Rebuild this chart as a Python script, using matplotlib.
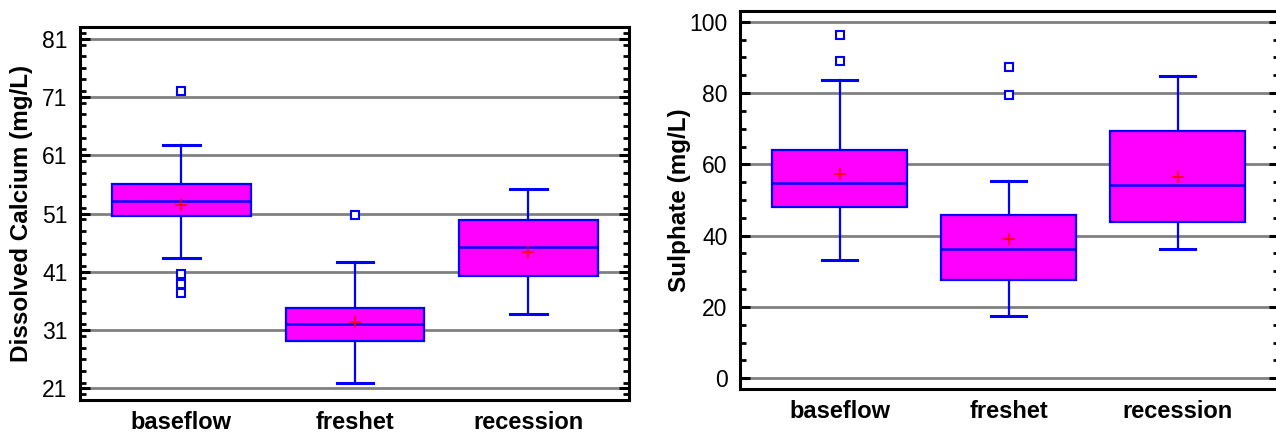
import matplotlib.pyplot as plt
from matplotlib.ticker import MultipleLocator

plt.rcParams['font.family'] = ['Liberation Sans', 'DejaVu Sans']

seasons = ['baseflow', 'freshet', 'recession']

# dissolved calcium (mg/L): quartiles, whiskers, means and outside points
ca_q1 = [50.6, 29.1, 40.3]
ca_med = [53.1, 32.0, 45.2]
ca_q3 = [56.0, 34.8, 49.9]
ca_lo = [43.4, 21.9, 33.8]
ca_hi = [62.7, 42.7, 55.2]
ca_mean = [52.5, 32.4, 44.4]
ca_out = [[72.1, 40.6, 38.9, 37.3], [50.7], []]

# sulphate (mg/L)
so4_q1 = [48.1, 27.7, 43.9]
so4_med = [54.8, 36.2, 54.3]
so4_q3 = [63.9, 45.8, 69.3]
so4_lo = [33.1, 17.5, 36.2]
so4_hi = [83.7, 55.4, 84.9]
so4_mean = [57.2, 39.2, 56.5]
so4_out = [[96.3, 89.1], [87.4, 79.4], []]


def box_stats(q1, med, q3, lo, hi, mean, out):
    stats = []
    for i in range(len(seasons)):
        stats.append({'label': seasons[i], 'q1': q1[i], 'med': med[i], 'q3': q3[i],
                      'whislo': lo[i], 'whishi': hi[i], 'mean': mean[i],
                      'fliers': out[i]})
    return stats


def draw_panel(ax, stats, ylabel, ylim, yticks, minor, xlim, label_x):
    ax.bxp(stats, positions=[1, 2, 3], widths=0.8, patch_artist=True,
           showmeans=True, capwidths=0.21,
           boxprops=dict(facecolor='#ff00ff', edgecolor='#0000ff', linewidth=1.6),
           medianprops=dict(color='#0000ff', linewidth=1.8),
           whiskerprops=dict(color='#0000ff', linewidth=1.6),
           capprops=dict(color='#0000ff', linewidth=2.2),
           meanprops=dict(marker='+', markeredgecolor='red', markersize=9,
                          markeredgewidth=1.2),
           flierprops=dict(marker='s', markerfacecolor='white',
                           markeredgecolor='#0000ff', markersize=6,
                           markeredgewidth=1.5),
           zorder=3)
    ax.set_xlim(*xlim)
    ax.set_ylim(*ylim)
    ax.set_yticks(yticks)
    ax.yaxis.set_minor_locator(MultipleLocator(minor))
    ax.grid(axis='y', which='major', color='#808080', linewidth=2, zorder=1)
    ax.set_axisbelow(True)
    ax.tick_params(axis='y', which='major', direction='in', length=7.5, width=2.2,
                   left=True, right=True, labelsize=16.5, pad=9)
    ax.tick_params(axis='y', which='minor', direction='in', length=4, width=2,
                   left=True, right=True)
    ax.tick_params(axis='x', length=0, pad=8)
    ax.set_xticks([1, 2, 3])
    ax.set_xticklabels(seasons, fontsize=17, fontweight='bold')
    for sp in ax.spines.values():
        sp.set_linewidth(2.2)
    ax.set_ylabel(ylabel, fontsize=17.5, fontweight='bold')
    ax.yaxis.set_label_coords(label_x, 0.5)


fig = plt.figure(figsize=(12.76, 4.33), dpi=100)
ax1 = fig.add_axes([0.0627, 0.0762, 0.4302, 0.8614])
ax2 = fig.add_axes([0.5799, 0.1016, 0.4225, 0.873])

draw_panel(ax1, box_stats(ca_q1, ca_med, ca_q3, ca_lo, ca_hi, ca_mean, ca_out),
           'Dissolved Calcium (mg/L)', (19.0, 83.0), list(range(21, 82, 10)), 2,
           (0.415, 3.58), -0.086)
draw_panel(ax2, box_stats(so4_q1, so4_med, so4_q3, so4_lo, so4_hi, so4_mean, so4_out),
           'Sulphate (mg/L)', (-3.0, 103.0), list(range(0, 101, 20)), 5,
           (0.41, 3.60), -0.09)

fig.savefig('out.png', dpi=100)
